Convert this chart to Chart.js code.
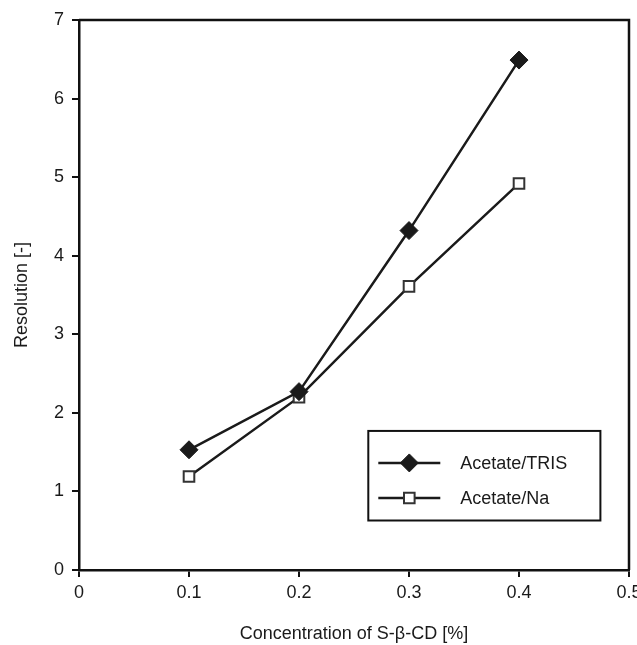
<!DOCTYPE html>
<html>
<head>
<meta charset="utf-8">
<script src="https://cdn.jsdelivr.net/npm/chart.js@4/dist/chart.umd.min.js"></script>
<style>
  html, body { margin: 0; padding: 0; background: #fff; overflow: hidden; }
  #wrap { width: 637px; height: 645px; overflow: hidden; }
</style>
</head>
<body>
<div id="wrap"><canvas id="resolution" width="655" height="645"></canvas></div>
<script>
// data
var concentration = [0.1, 0.2, 0.3, 0.4];
var acetateTris = [1.53, 2.27, 4.32, 6.49];
var acetateNa = [1.19, 2.20, 3.61, 4.92];
var xTicks = [0, 0.1, 0.2, 0.3, 0.4, 0.5];
var yTicks = [0, 1, 2, 3, 4, 5, 6, 7];

var FONT = '"Liberation Sans", Arial, sans-serif';

function pairs(xs, ys) {
    return xs.map(function (x, i) { return { x: x, y: ys[i] }; });
}

// frame round the plot (top + right edge)
var frame = {
    id: 'frame',
    afterDatasetsDraw: function (chart) {
        var a = chart.chartArea, c = chart.ctx;
        c.save();
        c.strokeStyle = '#111';
        c.lineWidth = 2.5;
        c.beginPath();
        c.moveTo(a.left, a.top);
        c.lineTo(a.right, a.top);
        c.lineTo(a.right, a.bottom);
        c.stroke();
        c.restore();
    }
};

// boxed legend inside the plot, bottom right
var boxLegend = {
    id: 'boxLegend',
    afterDraw: function (chart) {
        var c = chart.ctx;
        var x = chart.scales.x, y = chart.scales.y;
        var left = x.getPixelForValue(0.263), right = x.getPixelForValue(0.474);
        var top = y.getPixelForValue(1.77), bottom = y.getPixelForValue(0.63);
        c.save();
        c.fillStyle = '#fff';
        c.fillRect(left, top, right - left, bottom - top);
        c.strokeStyle = '#111';
        c.lineWidth = 2;
        c.strokeRect(left, top, right - left, bottom - top);
        c.font = '18px ' + FONT;
        c.textBaseline = 'middle';
        chart.data.datasets.forEach(function (ds, i) {
            var ly = top + 32 + i * 35;
            c.strokeStyle = ds.borderColor;
            c.lineWidth = 2.5;
            c.beginPath();
            c.moveTo(left + 10, ly);
            c.lineTo(left + 72, ly);
            c.stroke();
            c.fillStyle = ds.pointBackgroundColor;
            c.strokeStyle = ds.pointBorderColor;
            c.lineWidth = ds.pointBorderWidth;
            Chart.helpers.drawPoint(c, { pointStyle: ds.pointStyle, radius: ds.pointRadius, borderWidth: ds.pointBorderWidth }, left + 41, ly);
            c.fillStyle = '#1a1a1a';
            c.fillText(ds.label, left + 92, ly + 1);
        });
        c.restore();
    }
};

var ctx = document.getElementById('resolution');
var myChart = new Chart(ctx, {
    type: 'scatter',
    data: {
        datasets: [{
            label: 'Acetate/TRIS',
            data: pairs(concentration, acetateTris),
            showLine: true,
            borderColor: '#1a1a1a',
            borderWidth: 2.5,
            pointStyle: 'rectRot',
            pointRadius: 9,
            pointBackgroundColor: '#1a1a1a',
            pointBorderColor: '#1a1a1a',
            pointBorderWidth: 1
        }, {
            label: 'Acetate/Na',
            data: pairs(concentration, acetateNa),
            showLine: true,
            borderColor: '#1a1a1a',
            borderWidth: 2.5,
            pointStyle: 'rect',
            pointRadius: 7.5,
            pointBackgroundColor: '#ffffff',
            pointBorderColor: '#333',
            pointBorderWidth: 2
        }]
    },
    options: {
        responsive: false,
        animation: false,
        layout: { padding: { left: 0, top: 20, right: 26, bottom: 0 } },
        plugins: {
            legend: { display: false },
            tooltip: { enabled: false }
        },
        scales: {
            x: {
                type: 'linear',
                min: 0,
                max: 0.5,
                afterFit: function (s) { s.height = 75; },
                afterBuildTicks: function (s) { s.ticks = xTicks.map(function (v) { return { value: v }; }); },
                border: { color: '#111', width: 2.5 },
                grid: { drawOnChartArea: false, drawTicks: true, tickLength: 7, color: '#111', lineWidth: 2 },
                ticks: {
                    color: '#1a1a1a',
                    padding: 5,
                    font: { family: FONT, size: 18 },
                    callback: function (v) { return String(v); }
                },
                title: {
                    display: true,
                    text: 'Concentration of S-β-CD [%]',
                    color: '#1a1a1a',
                    font: { family: FONT, size: 18 },
                    padding: { top: 0, bottom: 0 }
                }
            },
            y: {
                min: 0,
                max: 7,
                afterFit: function (s) { s.width = 79; },
                afterBuildTicks: function (s) { s.ticks = yTicks.map(function (v) { return { value: v }; }); },
                border: { color: '#111', width: 2.5 },
                grid: { drawOnChartArea: false, drawTicks: true, tickLength: 7, color: '#111', lineWidth: 2 },
                ticks: {
                    color: '#1a1a1a',
                    padding: 8,
                    font: { family: FONT, size: 18 }
                },
                title: {
                    display: true,
                    text: 'Resolution [-]',
                    color: '#1a1a1a',
                    font: { family: FONT, size: 18 },
                    padding: { top: 11, bottom: 0 }
                }
            }
        }
    },
    plugins: [frame, boxLegend]
});
</script>
</body>
</html>
